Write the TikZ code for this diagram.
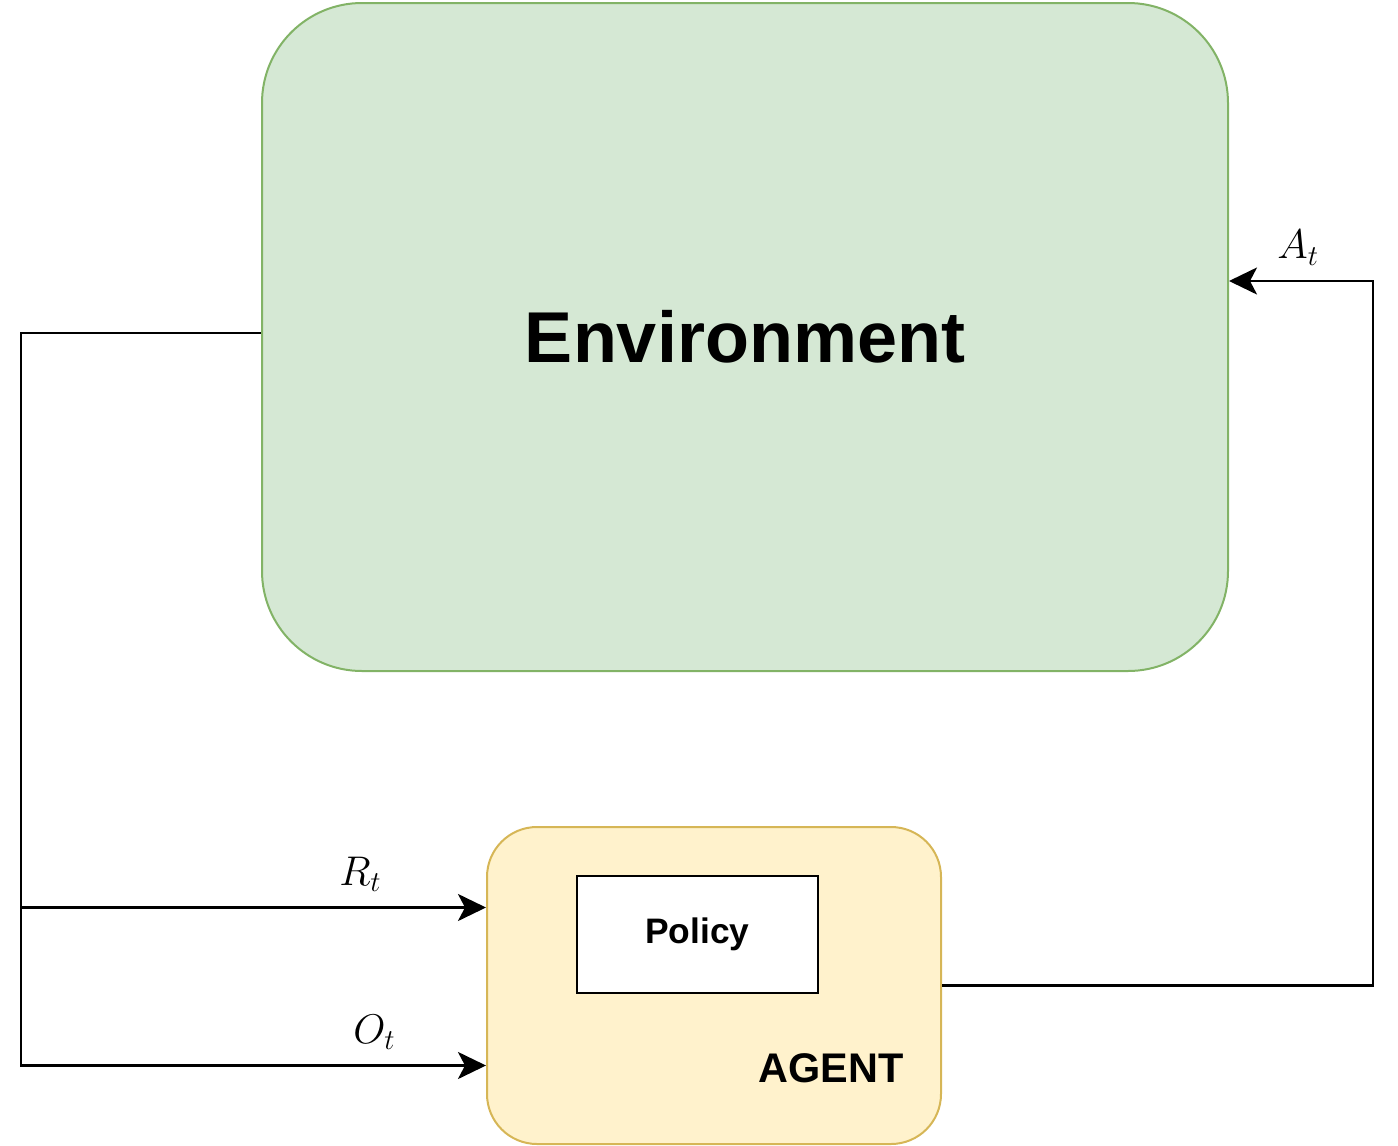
\documentclass[tikz,border=0pt]{standalone}
\usepackage{amsmath}
\usepackage{fontspec}
\setmainfont{Liberation Sans}
\usepackage{tikz}
\usetikzlibrary{arrows.meta}
\definecolor{envFill}{HTML}{D5E8D4}
\definecolor{envDraw}{HTML}{82B366}
\definecolor{agentFill}{HTML}{FFF2CC}
\definecolor{agentDraw}{HTML}{D6B656}
\begin{document}
\begin{tikzpicture}[x=0.5pt, y=-0.5pt, ->, >={Stealth[length=14pt,width=13.5pt,inset=3.5pt]}, line width=1.25pt]
        \tikzset{
           envBox/.style={
                        rectangle,
                        rounded corners=50pt,
                        draw=envDraw,
                        fill=envFill,
                        text=black,
                        line width=1pt,
                        minimum width=483pt,
                        minimum height=334pt,
                        font=\fontsize{36}{40}\selectfont\bfseries
                       },
           agentBox/.style={
                        rectangle,
                        rounded corners=25pt,
                        draw=agentDraw,
                        fill=agentFill,
                        text=black,
                        line width=1pt,
                        minimum width=227pt,
                        minimum height=158.5pt
                       },
           policyBox/.style={
                        rectangle,
                        draw=black,
                        fill=white,
                        text=black,
                        line width=1pt,
                        minimum width=120.5pt,
                        minimum height=58.5pt,
                        font=\fontsize{17.7}{20}\selectfont\bfseries
                       },
           agentLabel/.style={
                        font=\fontsize{20.7}{24}\selectfont\bfseries
                       },
           sigLabel/.style={
                        above=4pt,
                        font=\fontsize{21}{24}\selectfont
                       },
                 };
    \useasboundingbox (0,0) rectangle (1398,1146);
    %--------------------
        \node[envBox]     (env)      at (745,337)     {Environment};
        \node[agentBox]   (agent)    at (714,985.5)   {};
        \node[policyBox]  (policy)   at (697.5,934.5) {Policy};
        \node[agentLabel] (agentTxt) at (831,1068)    {AGENT};

        \coordinate (envOut) at ([yshift=2pt]env.west);
        \coordinate (rIn) at ([yshift=39pt]agent.west);
        \coordinate (oIn) at ([yshift=-40pt]agent.west);
        \coordinate (aIn) at ([yshift=28pt]env.east);
    %--------------------
        \draw (envOut) -- ++(-240,0) coordinate (bus) |- (oIn)
              node[sigLabel, pos=0.88] {$O_t$};
        \draw (bus |- rIn) -- (rIn)
              node[sigLabel, pos=0.73] {$R_t$};
        \draw (agent.east) -- ++(431,0) |- (aIn)
              node[sigLabel, pos=0.76] {$A_t$};
    \end{tikzpicture}
\end{document}
